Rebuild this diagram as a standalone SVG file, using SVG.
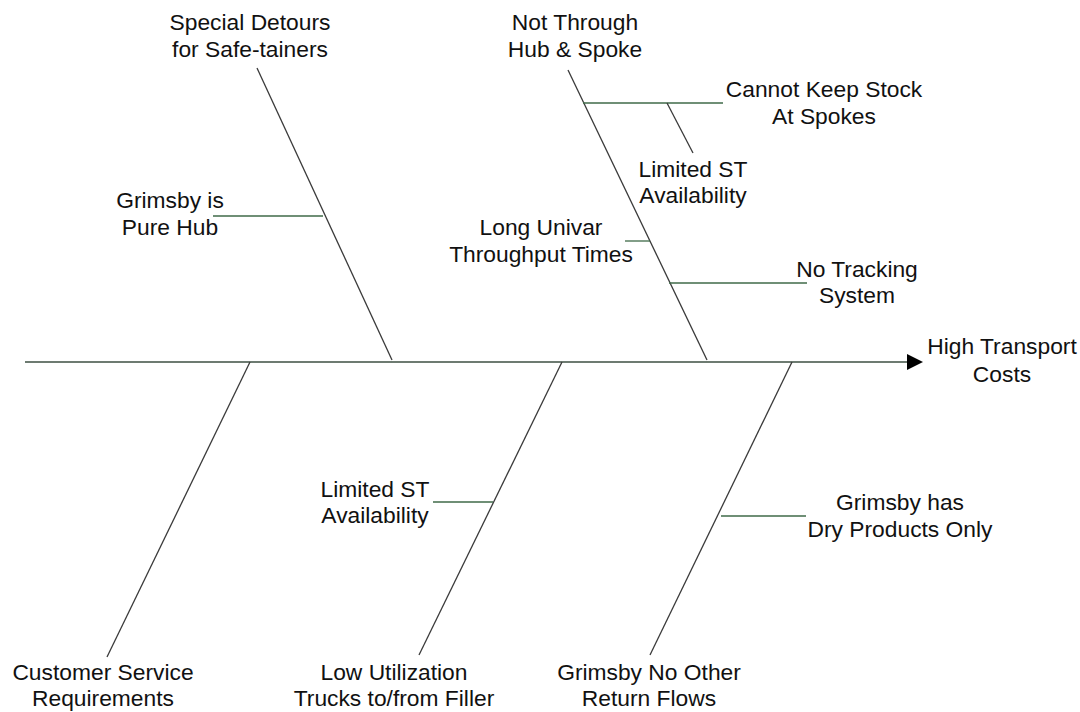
<svg xmlns="http://www.w3.org/2000/svg" width="1080" height="712" viewBox="0 0 1080 712">
  <style>
    .bone { stroke: #3a3a3a; stroke-width: 1.3; fill: none; }
    .rib { stroke: #3f6a48; stroke-width: 1.3; fill: none; }
    .spine { stroke: #3d4f42; stroke-width: 1.6; fill: none; }
    text { font-family: "Liberation Sans", Arial, sans-serif; font-size: 22.8px; fill: #111; text-anchor: middle; }
  </style>
  <defs>
    <marker id="head" viewBox="0 0 10 10" refX="0" refY="5" markerWidth="18" markerHeight="16" markerUnits="userSpaceOnUse" orient="auto">
      <path d="M0,0 L10,5 L0,10 Z" fill="#000"/>
    </marker>
  </defs>
  <rect width="1080" height="712" fill="#fff"/>

  <!-- connectors: spine, main bones and side ribs -->
  <g id="connectors">
    <line class="spine" x1="25" y1="362" x2="907" y2="362" marker-end="url(#head)"/>
    <!-- upper bones -->
    <line class="bone" x1="257" y1="68" x2="392" y2="360"/>
    <line class="bone" x1="568" y1="70" x2="707" y2="360"/>
    <!-- lower bones -->
    <line class="bone" x1="250" y1="362" x2="107" y2="657"/>
    <line class="bone" x1="562" y1="362" x2="419" y2="655"/>
    <line class="bone" x1="792" y1="362" x2="650" y2="655"/>
    <!-- ribs -->
    <line class="rib" x1="213" y1="216" x2="323" y2="216"/>
    <line class="rib" x1="583" y1="103" x2="723" y2="103"/>
    <line class="bone" x1="667" y1="103" x2="693" y2="153"/>
    <line class="rib" x1="625" y1="241" x2="650" y2="241"/>
    <line class="rib" x1="669" y1="283" x2="807" y2="283"/>
    <line class="rib" x1="433" y1="502" x2="493" y2="502"/>
    <line class="rib" x1="721" y1="516" x2="806" y2="516"/>
  </g>

  <g id="effect">
    <text x="1002" y="354">High Transport</text>
    <text x="1002" y="382">Costs</text>
  </g>
  <g id="special-detours">
    <text x="250" y="30">Special Detours</text>
    <text x="250" y="57">for Safe-tainers</text>
  </g>
  <g id="grimsby-pure-hub">
    <text x="170" y="208">Grimsby is</text>
    <text x="170" y="235">Pure Hub</text>
  </g>
  <g id="not-through-hub">
    <text x="575" y="30">Not Through</text>
    <text x="575" y="57">Hub &amp; Spoke</text>
  </g>
  <g id="cannot-keep-stock">
    <text x="824" y="97">Cannot Keep Stock</text>
    <text x="824" y="124">At Spokes</text>
  </g>
  <g id="limited-st-upper">
    <text x="693" y="177">Limited ST</text>
    <text x="693" y="203">Availability</text>
  </g>
  <g id="long-univar">
    <text x="541" y="235">Long Univar</text>
    <text x="541" y="262">Throughput Times</text>
  </g>
  <g id="no-tracking">
    <text x="857" y="277">No Tracking</text>
    <text x="857" y="303">System</text>
  </g>
  <g id="limited-st-lower">
    <text x="375" y="497">Limited ST</text>
    <text x="375" y="523">Availability</text>
  </g>
  <g id="dry-products">
    <text x="900" y="510">Grimsby has</text>
    <text x="900" y="537">Dry Products Only</text>
  </g>
  <g id="customer-service">
    <text x="103" y="680">Customer Service</text>
    <text x="103" y="706">Requirements</text>
  </g>
  <g id="low-utilization">
    <text x="394" y="680">Low Utilization</text>
    <text x="394" y="706">Trucks to/from Filler</text>
  </g>
  <g id="return-flows">
    <text x="649" y="680">Grimsby No Other</text>
    <text x="649" y="706">Return Flows</text>
  </g>
</svg>
